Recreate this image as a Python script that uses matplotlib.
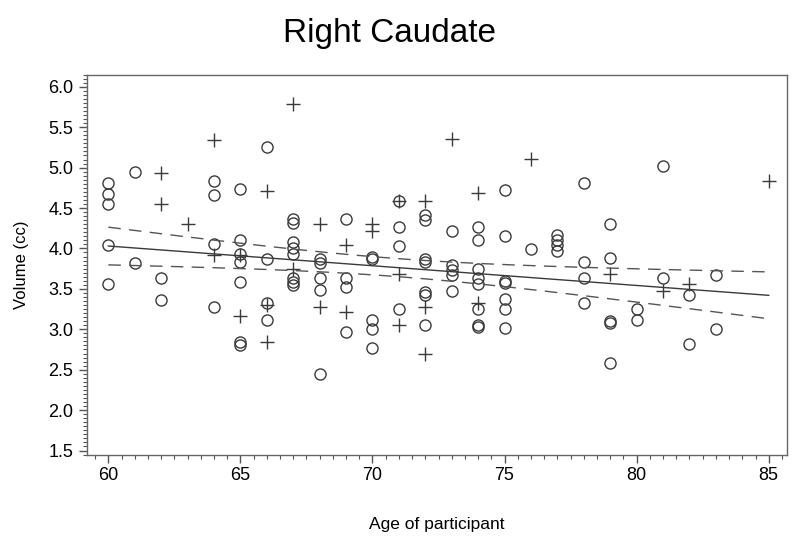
import numpy as np
import matplotlib
matplotlib.use("Agg")
import matplotlib.pyplot as plt
from matplotlib.ticker import MultipleLocator

# Circles (group 1)
circle_age = [60, 60, 60, 60, 60,
              61, 61,
              62, 62,
              64, 64, 64, 64,
              65, 65, 65, 65, 65, 65, 65,
              66, 66, 66, 66,
              67, 67, 67, 67, 67, 67, 67, 67,
              68, 68, 68, 68, 68,
              69, 69, 69, 69,
              70, 70, 70, 70, 70,
              71, 71, 71, 71,
              72, 72, 72, 72, 72, 72, 72,
              73, 73, 73, 73, 73,
              74, 74, 74, 74, 74, 74, 74, 74,
              75, 75, 75, 75, 75, 75, 75,
              76,
              77, 77, 77, 77,
              78, 78, 78, 78,
              79, 79, 79, 79, 79,
              80, 80,
              81, 81,
              82, 82,
              83, 83]
circle_vol = [4.81, 4.67, 4.55, 4.04, 3.56,
              4.95, 3.82,
              3.64, 3.36,
              4.83, 4.66, 4.05, 3.28,
              4.73, 4.10, 3.93, 3.83, 3.58, 2.84, 2.81,
              5.25, 3.87, 3.33, 3.11,
              4.36, 4.31, 4.08, 4.00, 3.93, 3.64, 3.58, 3.55,
              3.87, 3.82, 3.64, 3.48, 2.45,
              4.36, 3.64, 3.52, 2.97,
              3.89, 3.87, 3.12, 3.00, 2.77,
              4.59, 4.26, 4.03, 3.25,
              4.41, 4.35, 3.87, 3.83, 3.46, 3.43, 3.05,
              4.21, 3.80, 3.73, 3.67, 3.47,
              4.27, 4.11, 3.74, 3.64, 3.56, 3.25, 3.05, 3.03,
              4.72, 4.16, 3.60, 3.57, 3.37, 3.25, 3.02,
              3.99,
              4.17, 4.11, 4.04, 3.97,
              4.81, 3.83, 3.63, 3.33,
              4.30, 3.88, 3.10, 3.08, 2.58,
              3.25, 3.12,
              5.02, 3.64,
              3.42, 2.82,
              3.67, 3.00]

# Plus signs (group 2)
plus_age = [62, 62, 63, 64, 64, 65, 65, 66, 66, 66, 67, 67, 68, 68, 69, 69,
            70, 70, 71, 71, 71, 72, 72, 72, 73, 74, 74, 76, 79, 81, 82, 85]
plus_vol = [4.93, 4.55, 4.30, 5.34, 3.92, 3.92, 3.17, 4.71, 3.30, 2.84, 5.79, 3.74,
            4.30, 3.28, 4.04, 3.21, 4.30, 4.21, 4.59, 3.68, 3.05, 4.59, 3.27, 2.70,
            5.35, 4.69, 3.33, 5.11, 3.68, 3.47, 3.56, 4.83]

# Fitted regression line (end points)
fit_age = [60, 85]
fit_vol = [4.03, 3.42]

x_ticks = [60, 65, 70, 75, 80, 85]
y_ticks = [1.5, 2.0, 2.5, 3.0, 3.5, 4.0, 4.5, 5.0, 5.5, 6.0]

# 95% confidence band half-width from the sample spread
x_all = np.array(circle_age + plus_age, dtype=float)
y_all = np.array(circle_vol + plus_vol, dtype=float)
n = len(x_all)
slope = (fit_vol[1] - fit_vol[0]) / (fit_age[1] - fit_age[0])
intercept = fit_vol[0] - slope * fit_age[0]
resid = y_all - (intercept + slope * x_all)
s = np.sqrt(np.sum(resid ** 2) / (n - 2))
xbar = x_all.mean()
sxx = np.sum((x_all - xbar) ** 2)
tval = 1.978
xs = np.linspace(fit_age[0], fit_age[1], 200)
yhat = intercept + slope * xs
half = tval * s * np.sqrt(1.0 / n + (xs - xbar) ** 2 / sxx)

plt.rcParams['font.family'] = ['Liberation Sans', 'DejaVu Sans']
fig = plt.figure(figsize=(8.0, 5.53), dpi=100)
ax = fig.add_axes([0.109, 0.178, 0.875, 0.687])

col = '#3a3a3a'
ax.plot(circle_age, circle_vol, linestyle='none', marker='o', markersize=8,
        markerfacecolor='none', markeredgecolor=col, markeredgewidth=1.0)
ax.plot(plus_age, plus_vol, linestyle='none', marker='+', markersize=10,
        markeredgecolor=col, markeredgewidth=1.0)
ax.plot(xs, yhat, color=col, linewidth=1.0)
ax.plot(xs, yhat + half, color='#555555', linewidth=1.0, dashes=(9, 6))
ax.plot(xs, yhat - half, color='#555555', linewidth=1.0, dashes=(9, 6))

ax.set_xlim(59.2, 85.7)
ax.set_ylim(1.45, 6.15)
ax.set_xticks(x_ticks)
ax.set_yticks(y_ticks)
ax.set_yticklabels([f"{v:.1f}" for v in y_ticks])
ax.xaxis.set_minor_locator(MultipleLocator(0.5))
ax.yaxis.set_minor_locator(MultipleLocator(0.05))
ax.tick_params(axis='both', which='major', direction='out', length=6, width=1,
               color='#555555', labelsize=13, pad=4)
ax.tick_params(axis='x', which='major', pad=3)
ax.tick_params(axis='both', which='minor', direction='out', length=3, width=0.8,
               color='#555555')
for sp in ax.spines.values():
    sp.set_color('#666666')
    sp.set_linewidth(1.0)

ax.set_xlabel('Age of participant', fontsize=12.5, labelpad=24)
ax.set_ylabel('Volume (cc)', fontsize=12, labelpad=14)
fig.suptitle('Right Caudate', fontsize=24, x=0.487, y=0.968)

fig.savefig('out.png', dpi=100)
